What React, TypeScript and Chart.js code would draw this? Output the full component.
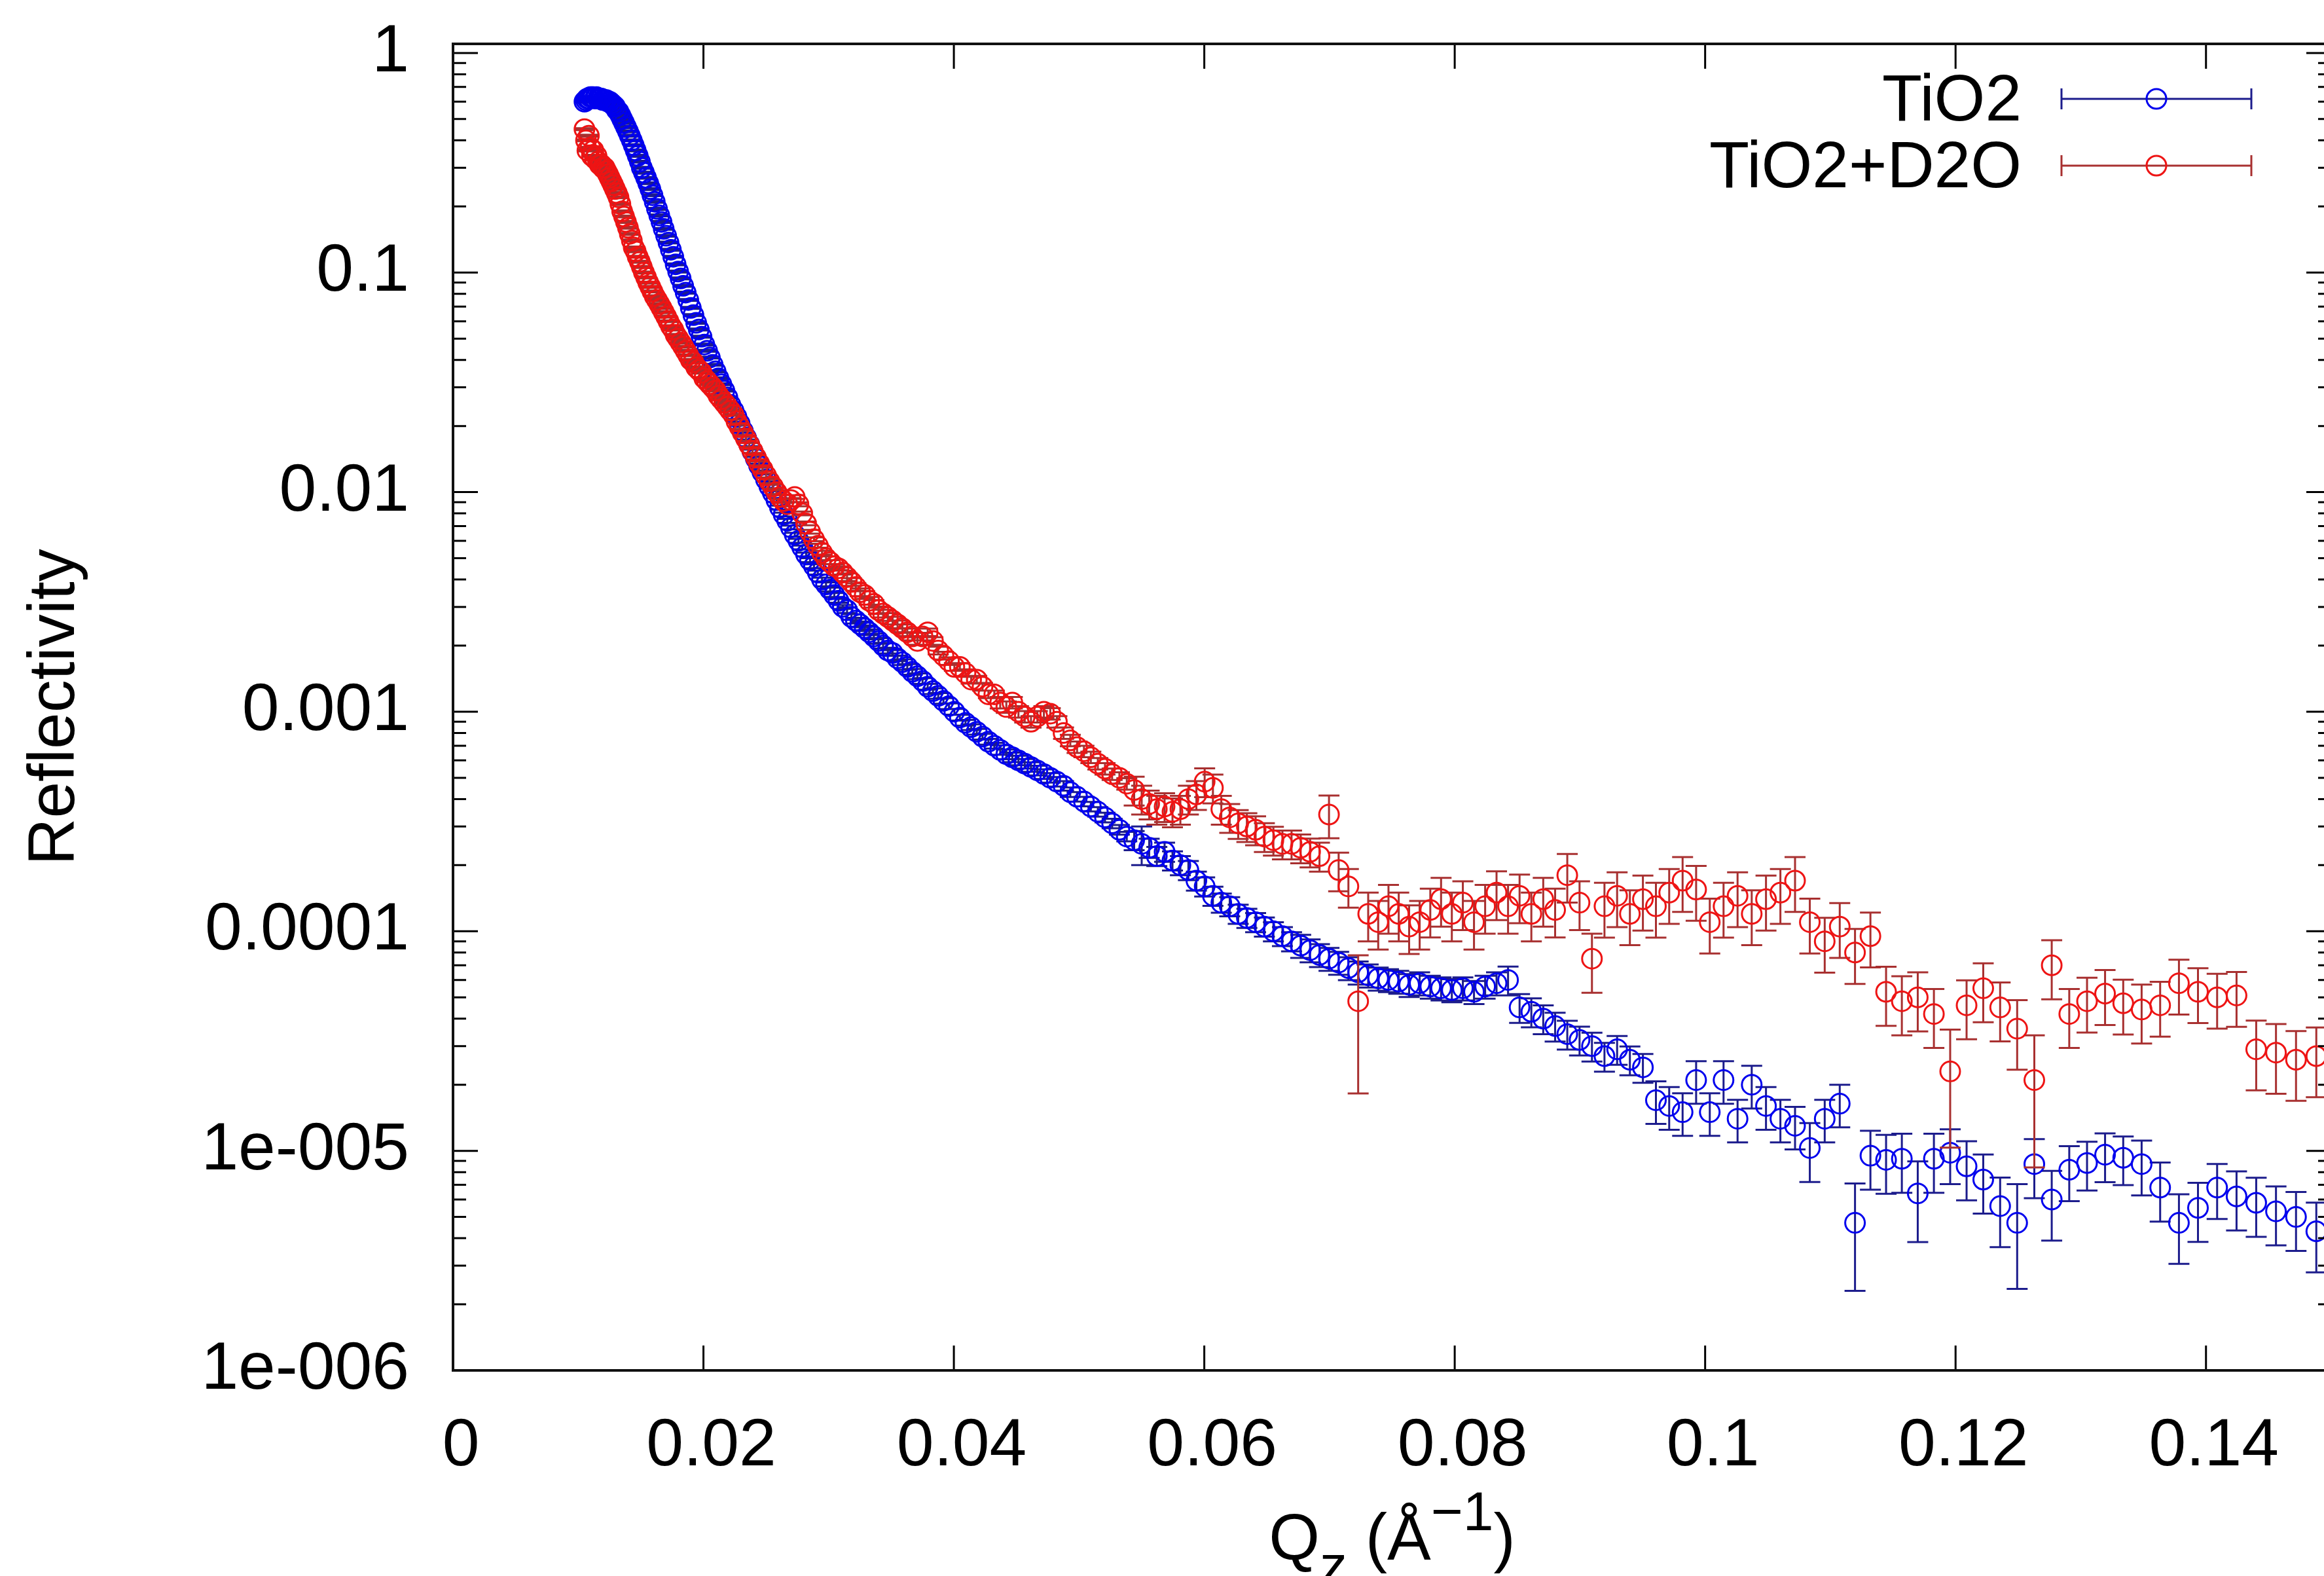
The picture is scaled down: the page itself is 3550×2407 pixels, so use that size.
import React, { useEffect, useRef } from "react";
import { Chart, registerables } from "chart.js";

Chart.register(...registerables);

const FONT = '"Liberation Sans", Arial, Helvetica, sans-serif';

// ---------------- data ----------------
const qValues = [
  0.01050, 0.01062, 0.01073, 0.01085, 0.01097, 0.01109, 0.01121, 0.01134, 0.01146, 0.01159,
  0.01172, 0.01185, 0.01198, 0.01211, 0.01224, 0.01238, 0.01251, 0.01265, 0.01279, 0.01293,
  0.01308, 0.01322, 0.01337, 0.01351, 0.01366, 0.01381, 0.01397, 0.01412, 0.01428, 0.01443,
  0.01459, 0.01475, 0.01492, 0.01508, 0.01525, 0.01542, 0.01559, 0.01576, 0.01593, 0.01611,
  0.01629, 0.01647, 0.01665, 0.01683, 0.01702, 0.01721, 0.01740, 0.01759, 0.01778, 0.01798,
  0.01818, 0.01838, 0.01858, 0.01879, 0.01899, 0.01920, 0.01942, 0.01963, 0.01985, 0.02007,
  0.02029, 0.02051, 0.02074, 0.02097, 0.02120, 0.02143, 0.02167, 0.02191, 0.02215, 0.02240,
  0.02264, 0.02289, 0.02315, 0.02340, 0.02366, 0.02392, 0.02419, 0.02445, 0.02472, 0.02500,
  0.02527, 0.02555, 0.02583, 0.02612, 0.02641, 0.02670, 0.02699, 0.02729, 0.02759, 0.02789,
  0.02820, 0.02851, 0.02883, 0.02914, 0.02947, 0.02979, 0.03012, 0.03045, 0.03079, 0.03113,
  0.03147, 0.03182, 0.03217, 0.03252, 0.03288, 0.03324, 0.03361, 0.03398, 0.03435, 0.03473,
  0.03511, 0.03550, 0.03589, 0.03628, 0.03668, 0.03709, 0.03750, 0.03791, 0.03833, 0.03875,
  0.03917, 0.03961, 0.04004, 0.04048, 0.04093, 0.04138, 0.04183, 0.04229, 0.04276, 0.04323,
  0.04370, 0.04419, 0.04467, 0.04516, 0.04566, 0.04616, 0.04667, 0.04719, 0.04770, 0.04823,
  0.04876, 0.04930, 0.04984, 0.05039, 0.05094, 0.05150, 0.05207, 0.05264, 0.05322, 0.05381,
  0.05440, 0.05500, 0.05560, 0.05621, 0.05683, 0.05746, 0.05809, 0.05873, 0.05937, 0.06003,
  0.06069, 0.06136, 0.06203, 0.06271, 0.06340, 0.06410, 0.06480, 0.06552, 0.06624, 0.06697,
  0.06770, 0.06845, 0.06920, 0.06996, 0.07073, 0.07151, 0.07229, 0.07309, 0.07389, 0.07471,
  0.07553, 0.07636, 0.07720, 0.07805, 0.07891, 0.07977, 0.08065, 0.08154, 0.08243, 0.08334,
  0.08426, 0.08518, 0.08612, 0.08707, 0.08802, 0.08899, 0.08997, 0.09096, 0.09196, 0.09297,
  0.09399, 0.09503, 0.09607, 0.09713, 0.09820, 0.09928, 0.10037, 0.10147, 0.10259, 0.10372,
  0.10486, 0.10601, 0.10718, 0.10836, 0.10955, 0.11075, 0.11197, 0.11320, 0.11445, 0.11571,
  0.11698, 0.11827, 0.11957, 0.12088, 0.12221, 0.12356, 0.12492, 0.12629, 0.12768, 0.12908,
  0.13050, 0.13194, 0.13339, 0.13486, 0.13634, 0.13784, 0.13936, 0.14089, 0.14244, 0.14401,
  0.14559, 0.14719, 0.14881,
];

const tio2Values = [
  0.60, 0.61, 0.62, 0.62, 0.63, 0.63, 0.63, 0.62, 0.63, 0.62, 0.62, 0.62, 0.61, 0.61, 0.61, 0.60, 0.60, 0.59,
  0.58, 0.57, 0.55, 0.54, 0.52, 0.50, 0.48, 0.46, 0.44, 0.42, 0.40, 0.38,
  0.36, 0.34, 0.32, 0.30, 0.285, 0.27, 0.255, 0.24, 0.225, 0.21, 0.195, 0.182, 0.17, 0.158, 0.147, 0.137, 0.127, 0.118, 0.109, 0.101,
  0.094, 0.087, 0.081, 0.075, 0.069, 0.064, 0.059, 0.055, 0.051, 0.047, 0.044, 0.041, 0.038, 0.0355, 0.033, 0.031, 0.029, 0.027, 0.025, 0.0235,
  0.022, 0.0205, 0.019, 0.0177, 0.0165, 0.0153, 0.0142, 0.0132, 0.0123, 0.0114, 0.0106, 0.0099, 0.0092, 0.0085, 0.0079, 0.0074, 0.0069, 0.0064, 0.0060, 0.0056,
  0.0052, 0.0049, 0.0046, 0.0043, 0.0040, 0.0038, 0.0036, 0.0034, 0.0032, 0.0030, 0.0029, 0.0027, 0.0026, 0.0025, 0.0024, 0.0023, 0.0022, 0.0021, 0.0020, 0.0019,
  0.00185, 0.00175, 0.00168, 0.0016, 0.00152, 0.00145, 0.00138, 0.0013, 0.00124, 0.00118, 0.00112, 0.00106, 0.001, 0.00094, 0.00089, 0.00085, 0.00081, 0.00077, 0.00073, 0.0007,
  0.00067, 0.00064, 0.00062, 0.0006, 0.00058, 0.00056, 0.00054, 0.00052, 0.0005, 0.00048, 0.00046, 0.00043, 0.00041, 0.00039, 0.00037, 0.00035, 0.00033, 0.00031, 0.00029, 0.00027,
  0.00026, 0.00025, 0.00024, 0.00022, 0.00023, 0.00021, 0.0002, 0.00019, 0.00017, 0.00016, 0.000145, 0.000135, 0.00013, 0.00012, 0.000115, 0.00011, 0.000105, 0.0001, 0.000095, 0.00009,
  8.6e-5, 8.2e-5, 7.8e-5, 7.5e-5, 7.2e-5, 6.8e-5, 6.5e-5, 6.3e-5, 6.1e-5, 6.0e-5, 5.9e-5, 5.7e-5, 5.8e-5, 5.6e-5, 5.5e-5, 5.4e-5, 5.5e-5, 5.3e-5, 5.6e-5, 5.8e-5,
  6.0e-5, 4.5e-5, 4.3e-5, 4.0e-5, 3.7e-5, 3.4e-5, 3.2e-5, 3.0e-5, 2.7e-5, 2.9e-5, 2.6e-5, 2.4e-5, 1.7e-5, 1.6e-5, 1.5e-5, 2.1e-5, 1.5e-5, 2.1e-5, 1.4e-5, 2.0e-5,
  1.6e-5, 1.4e-5, 1.3e-5, 1.03e-5, 1.4e-5, 1.64e-5, 4.7e-6, 9.5e-6, 9.1e-6, 9.2e-6, 6.4e-6, 9.2e-6, 9.8e-6, 8.5e-6, 7.4e-6, 5.6e-6, 4.7e-6, 8.7e-6, 6.0e-6, 8.2e-6,
  8.8e-6, 9.6e-6, 9.3e-6, 8.7e-6, 6.8e-6, 4.7e-6, 5.5e-6, 6.8e-6, 6.2e-6, 5.8e-6, 5.3e-6, 5.0e-6, 4.3e-6,
];

const tio2D2oValues = [
  0.45, 0.40, 0.36, 0.42, 0.37, 0.34, 0.36, 0.33, 0.34, 0.32, 0.31, 0.31, 0.30, 0.30, 0.29, 0.28, 0.27, 0.26,
  0.25, 0.24, 0.23, 0.22, 0.205, 0.19, 0.18, 0.17, 0.16, 0.15, 0.14, 0.13,
  0.125, 0.118, 0.112, 0.106, 0.100, 0.095, 0.090, 0.086, 0.082, 0.078, 0.075, 0.072, 0.069, 0.066, 0.063, 0.060, 0.057, 0.055, 0.052, 0.050,
  0.048, 0.046, 0.044, 0.042, 0.040, 0.039, 0.037, 0.036, 0.035, 0.033, 0.032, 0.031, 0.030, 0.029, 0.0275, 0.0265, 0.0255, 0.0245, 0.0235, 0.0225,
  0.021, 0.0198, 0.0186, 0.0175, 0.0164, 0.0154, 0.0144, 0.0135, 0.0127, 0.0119, 0.0112, 0.0106, 0.0100, 0.0095, 0.0091, 0.0088, 0.0092, 0.0095, 0.0088, 0.0080,
  0.0072, 0.0066, 0.0061, 0.0057, 0.0053, 0.0050, 0.0048, 0.0046, 0.0045, 0.0043, 0.0041, 0.0039, 0.0037, 0.0035, 0.0034, 0.0032, 0.0031, 0.0029, 0.0028, 0.0027,
  0.0026, 0.0025, 0.0024, 0.0023, 0.0022, 0.0021, 0.0022, 0.0023, 0.0021, 0.0019, 0.0018, 0.0017, 0.0016, 0.0016, 0.0015, 0.0014, 0.0014, 0.0013, 0.0012, 0.0012,
  0.0011, 0.00105, 0.0011, 0.001, 0.00095, 0.0009, 0.00095, 0.001, 0.00098, 0.0009, 0.0008, 0.00074, 0.00069, 0.00066, 0.00062, 0.00058, 0.00055, 0.00052, 0.0005, 0.00047,
  0.00044, 0.0004, 0.00038, 0.00036, 0.00037, 0.00035, 0.00036, 0.0004, 0.00042, 0.00048, 0.00045, 0.00036, 0.00033, 0.00031, 0.0003, 0.00029, 0.00027, 0.00026, 0.00025, 0.00025,
  0.00024, 0.00023, 0.00022, 0.00034, 0.00019, 0.00016, 4.8e-5, 0.00012, 0.00011, 0.00013, 0.00012, 0.000105, 0.00011, 0.000125, 0.00014, 0.00012, 0.000135, 0.00011, 0.00013, 0.00015,
  0.00013, 0.000145, 0.00012, 0.00014, 0.000125, 0.00018, 0.000135, 7.5e-5, 0.00013, 0.000145, 0.00012, 0.00014, 0.00013, 0.00015, 0.00017, 0.000155, 0.00011, 0.00013, 0.000145, 0.00012,
  0.00014, 0.00015, 0.00017, 0.00011, 9.0e-5, 0.000105, 8.0e-5, 9.5e-5, 5.3e-5, 4.8e-5, 5.0e-5, 4.2e-5, 2.3e-5, 4.6e-5, 5.5e-5, 4.5e-5, 3.6e-5, 2.1e-5, 7.0e-5, 4.2e-5,
  4.8e-5, 5.2e-5, 4.7e-5, 4.4e-5, 4.6e-5, 5.8e-5, 5.3e-5, 5.0e-5, 5.1e-5, 2.9e-5, 2.8e-5, 2.6e-5, 2.7e-5,
];

// relative error (percent) of each point
const tio2ErrPct = [
  1, 1, 1, 1, 1, 1, 1, 1, 1, 1, 1, 1, 1, 1, 1, 1, 1, 1, 1, 1,
  1, 1, 1, 1, 1, 1, 1, 1, 1, 1, 1, 1, 1, 1, 1, 1, 1, 1, 1, 1,
  1, 1, 1, 1, 1, 1, 1, 1, 1, 1, 1, 1, 1, 1, 1, 1, 1, 1, 1, 1,
  1, 1, 1, 1, 1, 1, 1, 1, 1, 1,
  2, 2, 2, 2, 2, 2, 2, 2, 2, 2, 2, 2, 2, 2, 2, 2, 2, 2, 2, 2, 2, 2, 2, 2, 2, 2, 2, 2, 2, 2,
  3, 3, 3, 3, 3, 3, 3, 3, 3, 3, 3, 3, 3, 3, 3, 3, 3, 3, 3, 3, 3, 3, 3, 3, 3, 3, 3, 3, 3, 3,
  5, 5, 5, 5, 5, 5, 5, 5, 5, 5, 5, 5, 5, 5, 5, 5, 5, 5, 5, 5,
  10, 20, 10, 10, 10, 10, 10, 10, 10, 10, 10, 10, 10, 10, 10, 10, 10, 10, 10, 10,
  12, 12, 12, 12, 12, 12, 12, 12, 12, 12, 12, 12, 12, 12, 12, 12, 12, 12, 12, 12,
  15, 15, 15, 15, 15, 15, 15, 15, 15, 15, 15, 15,
  22, 22, 22, 22, 22, 22, 22, 22, 22, 22, 22, 30, 22, 22,
  51, 30, 30, 30, 40, 30, 28, 30, 30, 35, 50, 30, 35, 28, 25, 25, 25, 28, 30, 35, 30, 28, 30, 30, 30, 30, 35,
];

const tio2D2oErrPct = [
  1, 1, 1, 1, 1, 1, 1, 1, 1, 1, 1, 1, 1, 1, 1, 1, 1, 1, 1, 1,
  1, 1, 1, 1, 1, 1, 1, 1, 1, 1, 1, 1, 1, 1, 1, 1, 1, 1, 1, 1,
  1, 1, 1, 1, 1, 1, 1, 1, 1, 1, 1, 1, 1, 1, 1, 1, 1, 1, 1, 1,
  1, 1, 1, 1, 1, 1, 1, 1, 1, 1,
  2, 2, 2, 2, 2, 2, 2, 2, 2, 2, 2, 2, 2, 2, 2, 2, 2, 2, 2, 2, 2, 2, 2, 2, 2, 2, 2, 2, 2, 2,
  4, 4, 4, 4, 4, 4, 4, 4, 4, 4, 4, 4, 4, 4, 4, 4, 4, 4, 4, 4, 4, 4, 4, 4, 4, 4, 4, 4, 4, 4,
  6, 6, 6, 6, 6, 6, 6, 6, 6, 6, 6, 6, 6, 6, 6, 6, 6, 6, 6, 6,
  15, 15, 15, 15, 15, 15, 15, 15, 15, 15, 15, 15, 15, 15, 15, 15, 15, 15, 15, 15, 15, 15, 15,
  22, 20, 20, 62,
  25, 25, 25, 25, 25, 25, 25, 25, 25, 25, 25, 25, 25, 25, 25, 25, 25, 25, 25, 25,
  30,
  28, 28, 28, 28, 28, 28, 28, 28, 28, 28, 28, 28, 28, 28, 28, 28, 28, 28, 28, 28,
  30, 30, 30, 30, 55, 30, 30, 30, 35, 60, 30, 30, 28, 28, 28, 30, 28, 28, 28, 28, 28, 35, 35, 35, 35,
];

const seriesLabels = ["TiO2", "TiO2+D2O"];
const xTickValues = [0, 0.02, 0.04, 0.06, 0.08, 0.1, 0.12, 0.14];
const xTickLabels = ["0", "0.02", "0.04", "0.06", "0.08", "0.1", "0.12", "0.14"];
const yTickValues = [1e-6, 1e-5, 1e-4, 1e-3, 1e-2, 1e-1, 1];
const yTickLabels = ["1e-006", "1e-005", "0.0001", "0.001", "0.01", "0.1", "1"];
const yTitle = "Reflectivity";
const xTitleParts = [
  { text: "Q", kind: "normal" },
  { text: "z", kind: "sub" },
  { text: " (Å", kind: "normal" },
  { text: "−1", kind: "sup" },
  { text: ")", kind: "normal" },
];

// ---------------- style ----------------
const BLUE_PT = "#0000ee";
const BLUE_ERR = "#1c1c8c";
const RED_PT = "#ee1414";
const RED_ERR = "#a83030";
const CAP = 16;
const MAJOR = 38;
const MINOR = 20;

function labelFor(values: number[], labels: string[], v: number) {
  for (let i = 0; i < values.length; i++) {
    if (Math.abs(values[i] - v) <= Math.abs(values[i]) * 1e-6 + 1e-12) return labels[i];
  }
  return "";
}

const gnuplotPlugin = {
  id: "gnuplotStyle",
  beforeDatasetDraw(chart: any, args: any) {
    const ds = chart.data.datasets[args.index];
    const { ctx, chartArea } = chart;
    const xs = chart.scales.x;
    const ys = chart.scales.y;
    ctx.save();
    ctx.beginPath();
    ctx.rect(chartArea.left, chartArea.top, chartArea.right - chartArea.left, chartArea.bottom - chartArea.top);
    ctx.clip();
    ctx.strokeStyle = ds.errorColor;
    ctx.lineWidth = 3;
    ctx.beginPath();
    ds.data.forEach((pt: any, i: number) => {
      const p = ds.errPct[i] / 100;
      const px = xs.getPixelForValue(pt.x);
      const hi = ys.getPixelForValue(pt.y * (1 + p));
      const lo = ys.getPixelForValue(Math.max(pt.y * (1 - p), 1e-12));
      ctx.moveTo(px, hi);
      ctx.lineTo(px, lo);
      ctx.moveTo(px - CAP, hi);
      ctx.lineTo(px + CAP, hi);
      ctx.moveTo(px - CAP, lo);
      ctx.lineTo(px + CAP, lo);
    });
    ctx.stroke();
    ctx.restore();
  },
  afterDatasetsDraw(chart: any) {
    const { ctx, chartArea } = chart;
    const { left, right, top, bottom } = chartArea;
    const xs = chart.scales.x;
    const ys = chart.scales.y;
    ctx.save();
    // ticks (inward, mirrored)
    ctx.strokeStyle = "#000";
    ctx.lineWidth = 3;
    ctx.beginPath();
    xTickValues.forEach((v) => {
      const px = xs.getPixelForValue(v);
      if (px <= left + 1 || px >= right - 1) return;
      ctx.moveTo(px, bottom);
      ctx.lineTo(px, bottom - MAJOR);
      ctx.moveTo(px, top);
      ctx.lineTo(px, top + MAJOR);
    });
    yTickValues.forEach((d) => {
      for (let m = 1; m <= 9; m++) {
        const v = m * d;
        if (v > ys.max) break;
        const py = ys.getPixelForValue(v);
        const len = m === 1 ? MAJOR : MINOR;
        ctx.moveTo(left, py);
        ctx.lineTo(left + len, py);
        ctx.moveTo(right, py);
        ctx.lineTo(right - len, py);
      }
    });
    ctx.stroke();
    // frame
    ctx.lineWidth = 4;
    ctx.strokeStyle = "#111";
    ctx.strokeRect(left, top, right - left, bottom - top);

    // legend
    ctx.font = `100px ${FONT}`;
    ctx.fillStyle = "#000";
    ctx.textAlign = "right";
    ctx.textBaseline = "alphabetic";
    chart.data.datasets.forEach((ds: any, i: number) => {
      const rowY = top + 84 + i * 102;
      ctx.fillText(ds.label, right - 473, rowY + 33);
      ctx.strokeStyle = ds.errorColor;
      ctx.lineWidth = 3;
      ctx.beginPath();
      ctx.moveTo(right - 412, rowY);
      ctx.lineTo(right - 122, rowY);
      ctx.moveTo(right - 412, rowY - CAP);
      ctx.lineTo(right - 412, rowY + CAP);
      ctx.moveTo(right - 122, rowY - CAP);
      ctx.lineTo(right - 122, rowY + CAP);
      ctx.stroke();
      ctx.strokeStyle = ds.borderColor;
      ctx.beginPath();
      ctx.arc(right - 267, rowY, 15, 0, Math.PI * 2);
      ctx.stroke();
    });

    // y title
    ctx.save();
    ctx.translate(113, (top + bottom) / 2);
    ctx.rotate(-Math.PI / 2);
    ctx.textAlign = "center";
    ctx.textBaseline = "alphabetic";
    ctx.font = `100px ${FONT}`;
    ctx.fillText(yTitle, 0, 0);
    ctx.restore();

    // x title with sub/superscript
    const base = bottom + 289;
    const parts = xTitleParts.map((p) => {
      const size = p.kind === "normal" ? 100 : 84;
      const dy = p.kind === "sub" ? 37 : p.kind === "sup" ? -45 : 0;
      ctx.font = `${size}px ${FONT}`;
      return { ...p, size, dy, w: ctx.measureText(p.text).width };
    });
    const total = parts.reduce((s, p) => s + p.w, 0);
    let x = (left + right) / 2 - total / 2;
    ctx.textAlign = "left";
    parts.forEach((p) => {
      ctx.font = `${p.size}px ${FONT}`;
      ctx.fillText(p.text, x, base + p.dy);
      x += p.w;
    });
    ctx.restore();
  },
};

export default function App() {
  const ref = useRef<HTMLCanvasElement | null>(null);
  useEffect(() => {
    const canvas = ref.current;
    if (!canvas) return;
    const mk = (vals: number[]) => qValues.map((q, i) => ({ x: q, y: vals[i] }));
    const chart = new Chart(canvas, {
      type: "scatter",
      data: {
        datasets: [
          {
            label: seriesLabels[0],
            data: mk(tio2Values),
            errPct: tio2ErrPct,
            errorColor: BLUE_ERR,
            borderColor: BLUE_PT,
            backgroundColor: "rgba(0,0,0,0)",
            pointStyle: "circle",
            pointRadius: 15,
            pointBorderWidth: 3,
            showLine: false,
            order: 2,
          } as any,
          {
            label: seriesLabels[1],
            data: mk(tio2D2oValues),
            errPct: tio2D2oErrPct,
            errorColor: RED_ERR,
            borderColor: RED_PT,
            backgroundColor: "rgba(0,0,0,0)",
            pointStyle: "circle",
            pointRadius: 15,
            pointBorderWidth: 3,
            showLine: false,
            order: 1,
          } as any,
        ],
      },
      options: {
        animation: false,
        responsive: false,
        maintainAspectRatio: false,
        devicePixelRatio: 1,
        events: [],
        layout: { padding: { left: 0, top: 67, right: 39, bottom: 0 } },
        plugins: { legend: { display: false }, tooltip: { enabled: false }, title: { display: false } },
        scales: {
          x: {
            type: "linear",
            min: 0,
            max: 0.15,
            afterBuildTicks: (s: any) => {
              s.ticks = xTickValues.map((v) => ({ value: v }));
            },
            afterFit: (s: any) => {
              s.height = 314;
              s.paddingLeft = 0;
              s.paddingRight = 0;
            },
            grid: { display: false, drawTicks: false },
            border: { display: false },
            ticks: {
              autoSkip: false,
              maxRotation: 0,
              padding: 56,
              labelOffset: 12,
              color: "#000",
              font: { family: FONT, size: 102 },
              callback: (v: any) => labelFor(xTickValues, xTickLabels, Number(v)),
            },
          },
          y: {
            type: "logarithmic",
            min: 1e-6,
            max: 1.1,
            afterBuildTicks: (s: any) => {
              s.ticks = yTickValues.map((v) => ({ value: v }));
            },
            afterFit: (s: any) => {
              s.width = 692;
              s.paddingTop = 0;
              s.paddingBottom = 0;
            },
            grid: { display: false, drawTicks: false },
            border: { display: false },
            ticks: {
              autoSkip: false,
              padding: 67,
              color: "#000",
              font: { family: FONT, size: 102 },
              callback: (v: any) => labelFor(yTickValues, yTickLabels, Number(v)),
            },
          },
        },
      } as any,
      plugins: [gnuplotPlugin as any],
    });
    return () => chart.destroy();
  }, []);
  return (
    <div
      style={{
        position: "fixed",
        left: 0,
        top: 0,
        width: 3550,
        height: 2407,
        overflow: "hidden",
        background: "#fff",
      }}
    >
      <canvas ref={ref} width={3600} height={2407} style={{ display: "block", width: 3600, height: 2407 }} />
    </div>
  );
}
